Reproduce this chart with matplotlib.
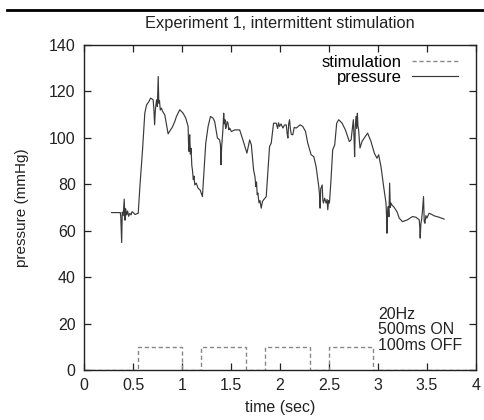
import matplotlib
matplotlib.use("Agg")
import matplotlib.pyplot as plt
from matplotlib.lines import Line2D

plt.rcParams['font.family'] = ['Liberation Sans', 'DejaVu Sans']

# pressure trace (sec, mmHg)
time = [0.28, 0.37, 0.375, 0.384, 0.39, 0.40, 0.41, 0.418, 0.425, 0.435, 0.445, 0.455,
        0.468, 0.48, 0.49, 0.502, 0.52, 0.553, 0.57, 0.597, 0.62, 0.638, 0.66, 0.679,
        0.705, 0.712, 0.72, 0.728, 0.74, 0.748, 0.757, 0.763, 0.77, 0.778, 0.79, 0.80,
        0.824, 0.858, 0.882, 0.90, 0.926, 0.943, 0.977, 1.011, 1.038, 1.062, 1.066,
        1.072, 1.076, 1.079, 1.085, 1.092, 1.10, 1.106, 1.115, 1.122, 1.13, 1.145,
        1.164, 1.185, 1.208, 1.242, 1.266, 1.29, 1.316, 1.333, 1.361, 1.384, 1.392,
        1.398, 1.404, 1.411, 1.418, 1.425, 1.431, 1.438, 1.445, 1.452, 1.46, 1.469,
        1.477, 1.486, 1.503, 1.537, 1.588, 1.621, 1.662, 1.69, 1.707, 1.73, 1.745,
        1.752, 1.76, 1.767, 1.774, 1.785, 1.795, 1.808, 1.82, 1.832, 1.859, 1.893,
        1.91, 1.934, 1.961, 1.975, 1.985, 1.995, 2.01, 2.029, 2.045, 2.063, 2.072,
        2.08, 2.088, 2.097, 2.105, 2.115, 2.13, 2.145, 2.165, 2.205, 2.232, 2.26,
        2.283, 2.317, 2.344, 2.368, 2.395, 2.402, 2.409, 2.415, 2.43, 2.437, 2.443,
        2.455, 2.47, 2.48, 2.487, 2.495, 2.504, 2.52, 2.537, 2.558, 2.578, 2.599,
        2.633, 2.667, 2.707, 2.725, 2.748, 2.755, 2.761, 2.768, 2.775, 2.782, 2.789,
        2.795, 2.802, 2.809, 2.816, 2.836, 2.87, 2.894, 2.928, 2.962, 2.989, 3.006,
        3.03, 3.057, 3.081, 3.087, 3.091, 3.097, 3.104, 3.111, 3.118, 3.125, 3.132,
        3.145, 3.159, 3.193, 3.216, 3.25, 3.301, 3.352, 3.386, 3.42, 3.425, 3.43,
        3.437, 3.444, 3.452, 3.464, 3.471, 3.478, 3.488, 3.498, 3.52, 3.539, 3.573,
        3.623, 3.674]
pressure = [67.8, 67.8, 66.0, 54.9, 68.0, 66.5, 73.6, 64.5, 69.5, 66.8, 68.5, 66.2,
            67.5, 66.8, 68.2, 67.8, 67.0, 67.5, 79.0, 94.8, 110.6, 114.2, 115.5, 117.1,
            116.4, 113.0, 105.6, 112.0, 116.4, 113.5, 126.4, 114.9, 116.0, 112.0, 112.8,
            111.5, 109.9, 101.7, 103.4, 104.5, 107.0, 109.2, 112.1, 110.6, 108.5, 104.9,
            98.0, 94.1, 100.5, 101.3, 93.0, 95.5, 88.0, 86.2, 82.0, 83.5, 79.7, 80.5,
            78.3, 77.5, 74.7, 97.7, 104.9, 109.2, 108.5, 107.0, 99.9, 99.1, 97.0,
            88.4, 96.0, 99.9, 104.0, 110.6, 106.0, 107.8, 104.0, 104.9, 107.0, 106.3,
            103.5, 104.2, 102.7, 103.4, 103.4, 99.1, 93.4, 99.1, 97.0, 86.2, 83.0,
            79.0, 81.0, 75.5, 76.2, 72.0, 73.0, 69.7, 72.5, 73.3, 74.7, 96.3,
            97.7, 106.3, 106.3, 104.0, 106.5, 104.9, 106.0, 104.2, 105.5, 105.6, 102.0,
            99.9, 106.0, 107.8, 104.0, 101.5, 101.3, 104.5, 104.2, 105.6, 104.9, 102.7,
            97.7, 92.7, 91.9, 87.6, 79.0, 76.0, 69.7, 78.0, 79.7, 73.0, 71.9,
            74.0, 71.9, 73.5, 69.0, 73.0, 71.9, 81.9, 94.8, 97.0, 106.3, 107.8,
            106.3, 103.4, 98.4, 99.1, 107.8, 100.0, 91.9, 105.0, 109.2, 104.0, 110.6,
            105.0, 103.4, 99.0, 95.6, 98.4, 100.6, 102.0, 98.4, 93.4, 91.2, 92.7,
            87.6, 79.0, 71.9, 66.0, 58.9, 68.0, 70.4, 66.0, 80.5, 70.0, 71.9,
            70.8, 70.4, 68.2, 65.4, 63.9, 64.7, 66.1, 65.8, 64.7, 62.0, 56.8,
            63.0, 64.7, 68.0, 74.7, 64.0, 63.2, 66.5, 65.4, 67.5, 67.2, 66.4,
            65.8, 65.0]

# stimulation pulses (sec), height in mmHg
pulse_on = [0.553, 1.198, 1.849, 2.497]
pulse_off = [1.0, 1.656, 2.307, 2.95]
pulse_height = 10

fig = plt.figure(figsize=(4.84, 4.2), dpi=100)
ax = fig.add_axes([0.1736, 0.119, 0.810, 0.774])

stim_t = [0.0]
stim_v = [0]
for on, off in zip(pulse_on, pulse_off):
    stim_t += [on, on, off, off]
    stim_v += [0, pulse_height, pulse_height, 0]
stim_t.append(4.0)
stim_v.append(0)

ax.plot(stim_t, stim_v, color='#888888', linestyle=(0, (3, 2)), linewidth=1.0,
        label='stimulation')
ax.plot(time, pressure, color='#3a3a3a', linewidth=0.85, label='pressure')

ax.set_xlim(0, 4)
ax.set_ylim(0, 140)
ax.set_xticks([0, 0.5, 1, 1.5, 2, 2.5, 3, 3.5, 4])
ax.set_xticklabels(['0', '0.5', '1', '1.5', '2', '2.5', '3', '3.5', '4'])
ax.set_yticks(range(0, 141, 20))
ax.tick_params(direction='in', top=True, right=True, length=5, width=0.9,
               labelsize=11.5, colors='#222222', pad=6)
for s in ax.spines.values():
    s.set_linewidth(1.0)
    s.set_color('#222222')

ax.set_xlabel('time (sec)', fontsize=11.5, color='#222222', labelpad=5)
ax.set_ylabel('pressure (mmHg)', fontsize=11, color='#222222', labelpad=14)
ax.set_title('Experiment 1, intermittent stimulation', fontsize=11.8, color='#222222', pad=12)

ax.legend(loc='upper right', frameon=False, markerfirst=False, fontsize=12,
          handlelength=2.8, handletextpad=0.6, borderaxespad=0, labelspacing=0.0,
          bbox_to_anchor=(1 - 11 / 392, 1 - 3 / 325))

ax.text(3.0, 27.3, '20Hz\n500ms ON\n100ms OFF', fontsize=11.5, color='#222222',
        va='top', ha='left', linespacing=1.05)

fig.add_artist(Line2D([0.015, 1.0], [0.976, 0.976], color='black', linewidth=2))

fig.savefig('out.png', dpi=100)
